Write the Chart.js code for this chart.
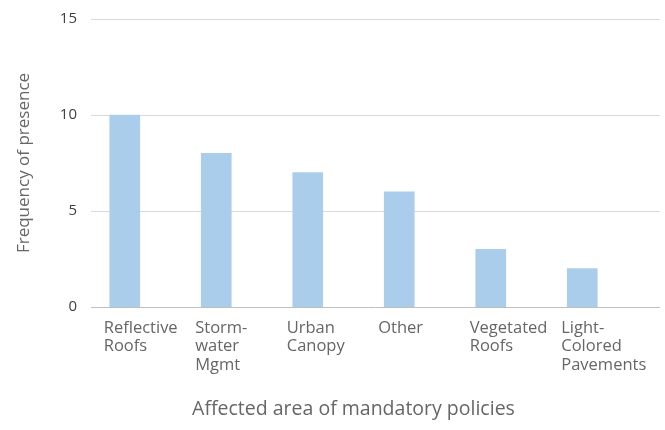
<!DOCTYPE html>
<html>
<head>
<meta charset="utf-8">
<script src="https://cdn.jsdelivr.net/npm/chart.js@4"></script>
<style>
  html, body { margin: 0; padding: 0; background: #fff; }
  #wrap { width: 665px; height: 430px; }
</style>
</head>
<body>
<div id="wrap"><canvas id="chart" width="665" height="430"></canvas></div>
<script>
// data
const categories = [
    ['Reflective', 'Roofs'],
    ['Storm-', 'water', 'Mgmt'],
    ['Urban', 'Canopy'],
    ['Other'],
    ['Vegetated', 'Roofs'],
    ['Light-', 'Colored', 'Pavements']
];
const frequency = [10, 8, 7, 6, 3, 2];
const yTicks = [0, 5, 10, 15];

const FONT = '"Open Sans", "Noto Sans", sans-serif';
const barColor = '#a9cdeb';

// gridlines in the reference run wider than the bars' band, so draw them ourselves
const gridPlugin = {
    id: 'wideGrid',
    beforeDatasetsDraw(chart) {
        const ctx = chart.ctx;
        const y = chart.scales.y;
        ctx.save();
        yTicks.forEach(v => {
            const py = Math.round(y.getPixelForValue(v)) + 0.5;
            ctx.strokeStyle = v === 0 ? '#bfbfbf' : '#d9d9d9';
            ctx.lineWidth = 1;
            ctx.beginPath();
            ctx.moveTo(91, py);
            ctx.lineTo(660, py);
            ctx.stroke();
        });
        ctx.restore();
    }
};

const ctx = document.getElementById('chart').getContext('2d');
new Chart(ctx, {
    type: 'bar',
    data: {
        labels: categories,
        datasets: [{
            data: frequency,
            backgroundColor: barColor,
            barThickness: 30
        }]
    },
    options: {
        responsive: false,
        animation: false,
        layout: { padding: { top: 19, right: 37, left: 0, bottom: 0 } },
        plugins: {
            legend: { display: false },
            tooltip: { enabled: false }
        },
        scales: {
            x: {
                grid: { display: false, drawTicks: false },
                border: { display: false },
                ticks: {
                    align: 'start',
                    labelOffset: -21,
                    padding: 12,
                    maxRotation: 0,
                    autoSkip: false,
                    color: '#666666',
                    font: { family: FONT, size: 16.5, lineHeight: 1.12 }
                },
                title: {
                    display: true,
                    text: 'Affected area of mandatory policies',
                    color: '#666666',
                    font: { family: FONT, size: 19.5 },
                    padding: { top: 0, bottom: 9 }
                },
                afterFit(scale) {
                    scale.height = 123;
                    scale.paddingLeft = 0;
                    scale.paddingRight = 0;
                }
            },
            y: {
                min: 0,
                max: 15,
                grid: { display: false, drawTicks: false },
                border: { display: false },
                ticks: {
                    stepSize: 5,
                    padding: 2,
                    color: '#404040',
                    font: { family: FONT, size: 15 }
                },
                title: {
                    display: true,
                    text: 'Frequency of presence',
                    color: '#666666',
                    font: { family: FONT, size: 17 },
                    padding: { top: 14, bottom: 0 }
                },
                afterFit(scale) {
                    scale.width = 79;
                    scale.paddingTop = 0;
                    scale.paddingBottom = 0;
                }
            }
        }
    },
    plugins: [gridPlugin]
});
</script>
</body>
</html>
